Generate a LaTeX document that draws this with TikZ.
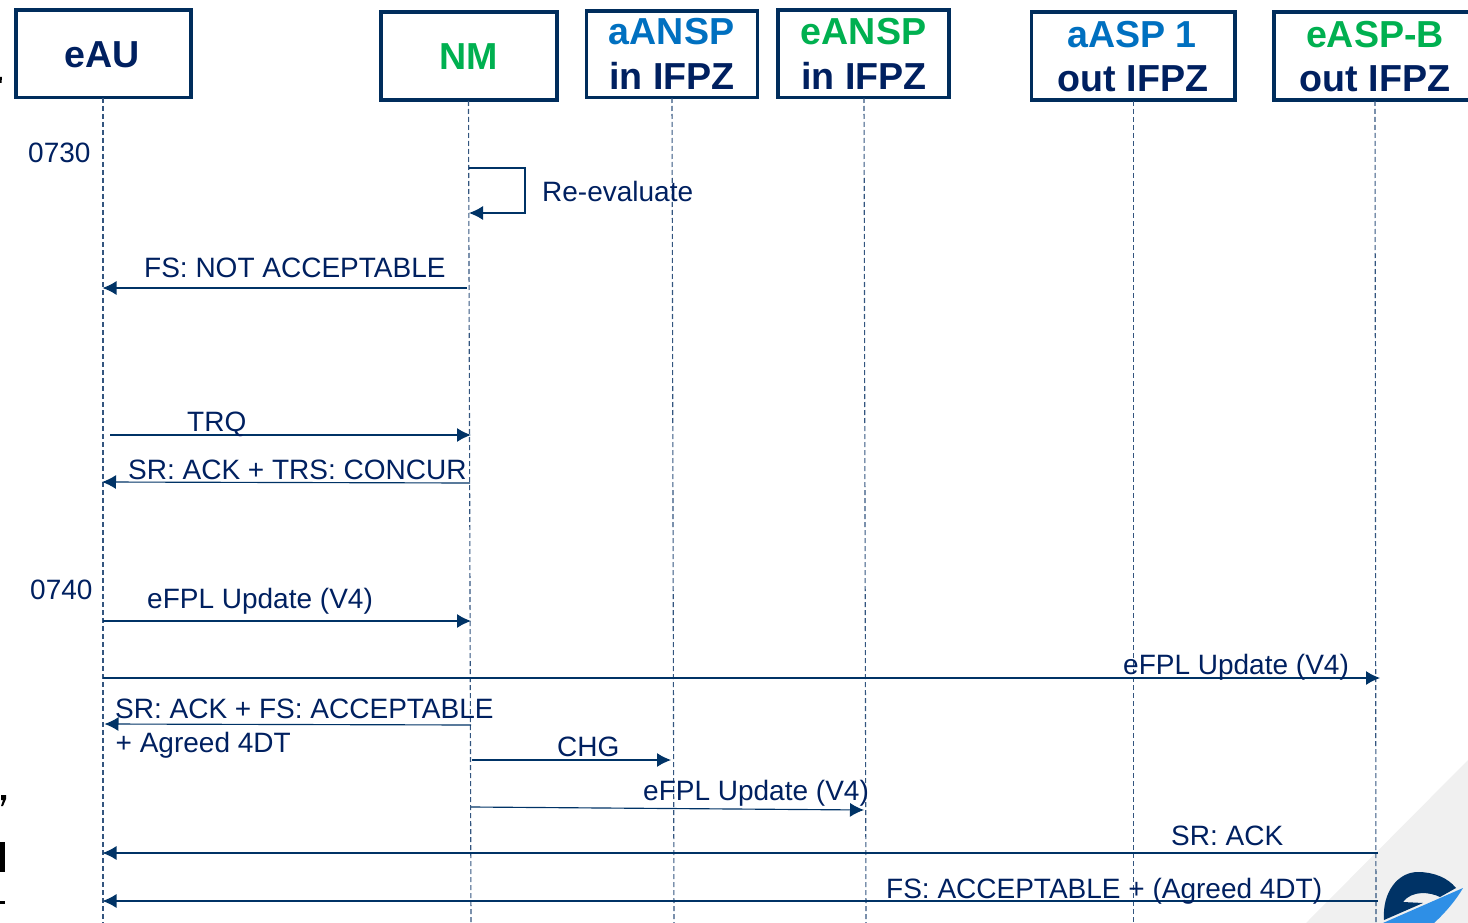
\documentclass[tikz,border=0pt]{standalone}
\usepackage{fontspec}
\setmainfont{Liberation Sans}
\usetikzlibrary{arrows.meta}
\definecolor{navy}{HTML}{002060}
\definecolor{boxnavy}{HTML}{002D5C}
\definecolor{arrownavy}{HTML}{003366}
\definecolor{lifenavy}{HTML}{33557F}
\definecolor{ablue}{HTML}{0070C0}
\definecolor{egreen}{HTML}{00B050}
\definecolor{greytri}{HTML}{F0F0F0}
\definecolor{logodark}{HTML}{003366}
\definecolor{logoblue}{HTML}{2E8FE6}
\tikzset{
  actor/.style={draw=boxnavy,line width=3.8pt,fill=white,inner sep=0pt,outer sep=0pt,anchor=north west},
  head/.style={font=\fontsize{37.6}{40}\selectfont\bfseries,anchor=base,inner sep=0pt},
  lbl/.style={font=\fontsize{28}{32}\selectfont,text=navy,anchor=base west,inner sep=0pt},
  life/.style={draw=lifenavy,line width=1.1pt,dash pattern=on 5pt off 3pt},
  msg/.style={draw=arrownavy,line width=1.15pt,-{Latex[length=14pt,width=14pt,color=arrownavy]}}
}
\begin{document}
\begin{tikzpicture}[x=1pt,y=-1pt]
\useasboundingbox (0,0) rectangle (1468,923);
\clip (0,0) rectangle (1468,923);
% background triangle and logo
\fill[greytri] (1468,760) -- (1306,923) -- (1468,923) -- cycle;
\fill[logodark] (1384,920) .. controls (1382,892) and (1398,872) .. (1418,872)
  .. controls (1434,872) and (1448,878) .. (1456,888) -- (1440,897)
  .. controls (1430,892) and (1412,890) .. (1403,902) -- (1423,903) -- cycle;
\fill[logoblue] (1463,888) -- (1383,923) -- (1434,923) .. controls (1446,912) and (1456,900) .. cycle;
% cropped marks at the left edge
\fill[black] (0,77) -- (2,77) -- (1.5,83) -- (0,83) -- cycle;
\fill[black] (1,795) -- (6,795) -- (6,799) -- (3,806) -- (1,806) -- (3,800) -- (1,800) -- cycle;
\fill[black] (0,842) rectangle (5,872);
\fill[black] (0,901) rectangle (5,904);
% lifeline ends
\coordinate (endA) at (103,923);
\coordinate (endB) at (471,923);
\coordinate (endC) at (674,923);
\coordinate (endD) at (866,923);
\coordinate (endE) at (1133.4,923);
\coordinate (endF) at (1376,923);
\coordinate (topA) at (103,98);
\coordinate (topB) at (468.5,101);
\coordinate (topC) at (672,98);
\coordinate (topD) at (864,98);
\coordinate (topE) at (1133.4,101);
\coordinate (topF) at (1375,101);
% actor boxes
\node[actor,minimum width=175pt,minimum height=87.5pt] (eAU) at (15.7,10) {};
\node[actor,minimum width=176pt,minimum height=88pt] (NM) at (381,12) {};
\node[actor,minimum width=171pt,minimum height=86.5pt] (aANSP) at (586.5,11) {};
\node[actor,minimum width=171pt,minimum height=87.5pt] (eANSP) at (778,10) {};
\node[actor,minimum width=203.5pt,minimum height=88pt] (aASP) at (1031.5,12) {};
\node[actor,minimum width=205pt,minimum height=88pt] (eASP) at (1274,12) {};
% lifelines
\draw[life] (topA) -- (endA);
\draw[life] (topB) -- (endB);
\draw[life] (topC) -- (endC);
\draw[life] (topD) -- (endD);
\draw[life] (topE) -- (endE);
\draw[life] (topF) -- (endF);
% header text
\node[head,text=navy] (t1) at (102.5,68) {eAU};
\node[head,text=egreen] (t2) at (468.5,70) {NM};
\node[head,text=ablue] (t3) at (671.5,45) {aANSP};
\node[head,text=navy] (t4) at (672,90) {in IFPZ};
\node[head,text=egreen] (t5) at (863.5,45) {eANSP};
\node[head,text=navy] (t6) at (864,90) {in IFPZ};
\node[head,text=ablue] (t7) at (1132,48) {aASP 1};
\node[head,text=navy] (t8) at (1133,92) {out IFPZ};
\node[head,text=egreen] (t9) at (1375,48) {eASP-B};
\node[head,text=navy] (t10) at (1375,92) {out IFPZ};
% endpoints
\coordinate (s0) at (468.5,168); \coordinate (s1) at (525,168); \coordinate (s2) at (525,213); \coordinate (s3) at (469,213);
\coordinate (a1) at (467,288); \coordinate (b1) at (102.5,288);
\coordinate (a2) at (110,435); \coordinate (b2) at (471,435);
\coordinate (a3) at (470,483); \coordinate (b3) at (102,482);
\coordinate (a4) at (103,621); \coordinate (b4) at (471,621);
\coordinate (a5) at (103,678); \coordinate (b5) at (1380,678);
\coordinate (a6) at (471,725); \coordinate (b6) at (104.5,724);
\coordinate (a7) at (472,760); \coordinate (b7) at (671,760);
\coordinate (a8) at (471,807); \coordinate (b8) at (864,810);
\coordinate (a9) at (1378,853); \coordinate (b9) at (102.5,853);
\coordinate (a10) at (1378,901); \coordinate (b10) at (102.5,901);
% messages
\draw[msg] (s0) -- (s1) -- (s2) -- (s3);
\draw[msg] (a1) -- (b1);
\draw[msg] (a2) -- (b2);
\draw[msg] (a3) -- (b3);
\draw[msg] (a4) -- (b4);
\draw[msg] (a5) -- (b5);
\draw[msg] (a6) -- (b6);
\draw[msg] (a7) -- (b7);
\draw[msg] (a8) -- (b8);
\draw[msg] (a9) -- (b9);
\draw[msg] (a10) -- (b10);
% labels
\node[lbl] (l1) at (28,163) {0730};
\node[lbl] (l2) at (542,201) {Re-evaluate};
\node[lbl] (l3) at (144,277) {FS: NOT ACCEPTABLE};
\node[lbl] (l4) at (187,431) {TRQ};
\node[lbl] (l5) at (128,479) {SR: ACK + TRS: CONCUR};
\node[lbl] (l6) at (30,599.5) {0740};
\node[lbl] (l7) at (147,608) {eFPL Update (V4)};
\node[lbl] (l8) at (1123,674) {eFPL Update (V4)};
\node[lbl] (l9) at (115,718) {SR: ACK + FS: ACCEPTABLE};
\node[lbl] (l10) at (115.5,752) {+ Agreed 4DT};
\node[lbl] (l11) at (557,756) {CHG};
\node[lbl] (l12) at (643,800) {eFPL Update (V4)};
\node[lbl] (l13) at (1171,845) {SR: ACK};
\node[lbl] (l14) at (886,898) {FS: ACCEPTABLE + (Agreed 4DT)};
\end{tikzpicture}
\end{document}
